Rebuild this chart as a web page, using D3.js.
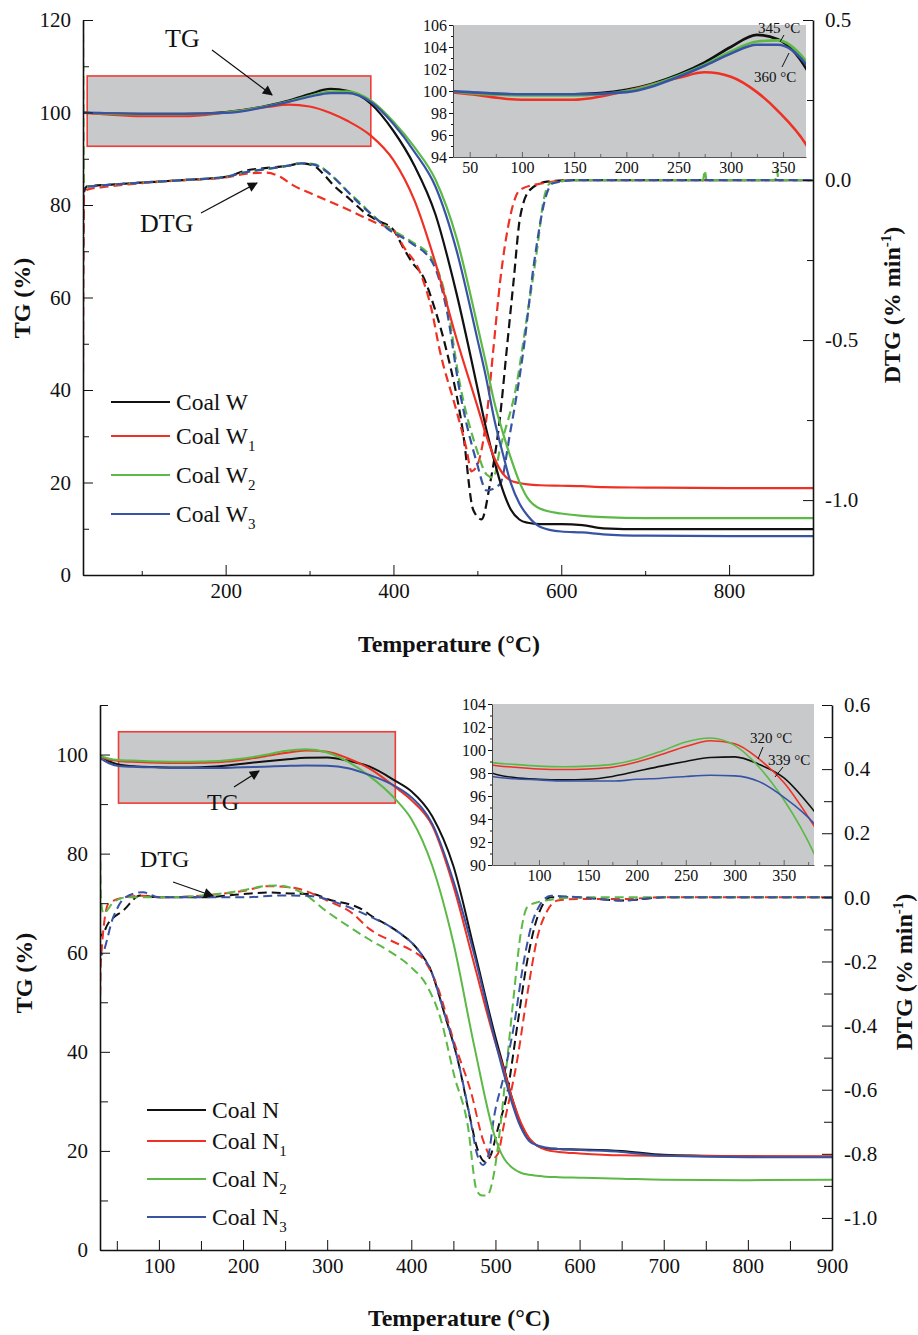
<!DOCTYPE html>
<html>
<head>
<meta charset="utf-8">
<script src="https://cdn.jsdelivr.net/npm/d3@7"></script>
<style>
  body { margin: 0; background: #fff; }
  svg { display: block; }
  text { font-family: "Liberation Serif", "Times New Roman", serif; fill: #111; }
</style>
</head>
<body>
<svg id="fig" width="918" height="1335"></svg>
<script>
// ---------- Coal W series (upper panel) ----------
const seriesW = ["Coal W", "Coal W1", "Coal W2", "Coal W3"];
const tgTempW = [30, 50, 100, 150, 200, 250, 275, 300, 325, 345, 373, 400, 425, 450, 475, 500, 510, 520, 530, 540, 550, 560, 575, 600, 625, 650, 700, 800, 900];
const tgCoalW  = [100.0, 99.8, 99.7, 99.7, 100.1, 101.5, 102.6, 104.0, 105.1, 104.7, 101.9, 96.0, 88.5, 78.0, 61.0, 40.5, 32.0, 24.8, 18.5, 14.1, 12.0, 11.3, 11.0, 11.0, 10.8, 10.1, 9.9, 9.9, 9.9];
const tgCoalW1 = [99.9, 99.7, 99.2, 99.2, 100.0, 101.2, 101.7, 101.3, 99.9, 98.2, 95.0, 89.7, 81.0, 67.5, 51.2, 36.5, 30.5, 25.4, 22.0, 20.4, 19.9, 19.6, 19.4, 19.3, 19.2, 19.0, 18.9, 18.8, 18.8];
const tgCoalW2 = [100.0, 99.8, 99.6, 99.6, 100.0, 101.4, 102.4, 103.6, 104.5, 104.6, 102.6, 98.0, 92.5, 85.5, 73.0, 54.0, 46.0, 37.5, 31.0, 25.2, 20.2, 16.6, 14.3, 13.3, 12.8, 12.5, 12.3, 12.3, 12.3];
const tgCoalW3 = [100.0, 99.9, 99.7, 99.7, 99.9, 101.3, 102.3, 103.4, 104.2, 104.2, 102.3, 97.5, 91.5, 84.0, 70.3, 51.0, 43.0, 33.8, 26.5, 19.8, 15.5, 12.8, 10.4, 9.4, 9.2, 8.8, 8.5, 8.4, 8.4];

const dtgTempW  = [30, 31, 35, 60, 100, 150, 200, 225, 250, 275, 290, 305, 316, 330, 348, 365, 380, 400, 411, 423, 435, 449, 463, 483, 495, 505, 515, 527, 535, 543, 551, 563, 583, 620, 700, 800, 900];
const dtgCoalW  = [-0.30, -0.04, -0.02, -0.015, -0.008, 0.0, 0.01, 0.03, 0.038, 0.045, 0.052, 0.045, 0.02, -0.02, -0.06, -0.10, -0.125, -0.156, -0.208, -0.26, -0.30, -0.40, -0.53, -0.79, -1.03, -1.06, -0.95, -0.74, -0.53, -0.32, -0.115, -0.03, -0.005, 0.0, 0.0, 0.0, 0.0];
const dtgTempW1 = [30, 31, 35, 60, 100, 150, 200, 225, 249, 265, 280, 300, 320, 352, 380, 400, 412, 432, 445, 455, 475, 487, 493, 500, 511, 519, 527, 539, 551, 578, 620, 700, 800, 900];
const dtgCoalW1 = [-0.6, -0.05, -0.03, -0.02, -0.01, 0.0, 0.008, 0.02, 0.023, 0.01, -0.016, -0.04, -0.0625, -0.10, -0.135, -0.156, -0.208, -0.29, -0.40, -0.53, -0.72, -0.84, -0.91, -0.89, -0.74, -0.53, -0.32, -0.115, -0.03, -0.01, 0.0, 0.0, 0.0, 0.0];
const dtgTempW2 = [30, 31, 35, 60, 100, 150, 200, 225, 250, 275, 290, 305, 328, 345, 360, 375, 392, 420, 447, 463, 479, 499, 511, 519, 527, 547, 559, 571, 579, 587, 620, 700, 769, 771, 773, 800, 855, 857, 859, 900];
const dtgCoalW2 = [0.5, -0.01, -0.02, -0.015, -0.008, 0.0, 0.01, 0.025, 0.035, 0.045, 0.052, 0.05, 0.01, -0.035, -0.07, -0.11, -0.146, -0.19, -0.25, -0.375, -0.635, -0.84, -0.92, -0.93, -0.84, -0.635, -0.43, -0.22, -0.0625, -0.01, 0.0, 0.0, 0.0, 0.03, 0.0, 0.0, 0.0, 0.03, 0.0, 0.0];
const dtgTempW3 = [30, 31, 35, 60, 100, 150, 200, 225, 250, 275, 290, 305, 328, 345, 360, 375, 392, 420, 447, 463, 479, 499, 511, 527, 539, 555, 567, 583, 590, 620, 700, 800, 900];
const dtgCoalW3 = [-0.05, -0.02, -0.02, -0.015, -0.008, 0.0, 0.01, 0.025, 0.035, 0.045, 0.052, 0.048, 0.01, -0.035, -0.075, -0.11, -0.15, -0.195, -0.26, -0.40, -0.66, -0.88, -0.97, -0.95, -0.79, -0.53, -0.27, -0.04, -0.01, 0.0, 0.0, 0.0, 0.0];

// ---------- Coal N series (lower panel) ----------
const seriesN = ["Coal N", "Coal N1", "Coal N2", "Coal N3"];
const tgTempN = [30, 40, 52, 75, 100, 125, 150, 175, 200, 225, 250, 275, 300, 325, 350, 381, 400, 425, 450, 475, 500, 510, 520, 530, 540, 550, 560, 575, 600, 650, 700, 800, 900];
const tgCoalN  = [99.8, 98.7, 98.0, 97.6, 97.45, 97.4, 97.45, 97.7, 98.15, 98.6, 99.0, 99.35, 99.4, 98.75, 97.6, 94.7, 92.6, 87.5, 77.5, 60.5, 43.0, 36.8, 30.5, 25.5, 22.5, 21.0, 20.5, 20.4, 20.3, 20.0, 19.2, 18.9, 18.8];
const tgCoalN1 = [99.6, 99.0, 98.7, 98.5, 98.35, 98.3, 98.35, 98.5, 98.95, 99.6, 100.3, 100.8, 100.55, 99.2, 97.2, 93.4, 90.8, 85.6, 73.5, 57.5, 41.8, 36.4, 30.5, 25.8, 22.6, 21.0, 20.2, 19.8, 19.5, 19.1, 19.0, 18.9, 18.9];
const tgCoalN2 = [99.7, 99.2, 98.9, 98.75, 98.6, 98.55, 98.6, 98.75, 99.2, 99.9, 100.7, 101.05, 100.4, 98.5, 95.7, 91.0, 87.0, 77.5, 62.0, 41.0, 22.5, 18.5, 16.6, 15.6, 15.2, 15.0, 14.8, 14.7, 14.6, 14.4, 14.2, 14.1, 14.2];
const tgCoalN3 = [99.3, 98.3, 97.7, 97.5, 97.4, 97.3, 97.3, 97.3, 97.45, 97.55, 97.7, 97.8, 97.75, 97.25, 95.9, 93.6, 91.4, 86.0, 74.5, 59.5, 42.0, 35.5, 29.5, 24.8, 22.0, 21.1, 20.7, 20.4, 20.2, 19.8, 19.0, 18.7, 18.7];

const dtgTempN  = [30, 31, 40, 58, 78, 100, 150, 200, 230, 260, 284, 300, 343, 351, 380, 411, 423, 439, 455, 470, 478, 488, 495, 502, 514, 526, 538, 550, 566, 600, 650, 700, 800, 900];
const dtgCoalN  = [-0.10, -0.12, -0.08, -0.04, 0.006, 0.0, 0.0, 0.01, 0.015, 0.012, 0.01, -0.005, -0.04, -0.055, -0.10, -0.174, -0.226, -0.36, -0.505, -0.69, -0.78, -0.825, -0.80, -0.73, -0.61, -0.40, -0.195, -0.061, 0.0, 0.0, -0.01, 0.0, 0.0, 0.0];
const dtgTempN1 = [30, 31, 40, 60, 80, 100, 150, 200, 230, 260, 300, 330, 351, 380, 400, 415, 431, 451, 471, 486, 497, 503, 510, 526, 538, 550, 562, 574, 600, 650, 700, 800, 900];
const dtgCoalN1 = [-0.35, -0.2, -0.02, 0.0, 0.005, 0.0, 0.005, 0.02, 0.035, 0.03, -0.01, -0.05, -0.10, -0.14, -0.165, -0.195, -0.278, -0.453, -0.608, -0.763, -0.814, -0.80, -0.71, -0.505, -0.30, -0.123, -0.04, -0.01, -0.005, -0.005, 0.0, 0.0, 0.0];
const dtgTempN2 = [30, 31, 34, 46, 62, 100, 150, 200, 225, 240, 270, 300, 325, 351, 375, 399, 419, 435, 451, 467, 478, 484, 490, 498, 506, 514, 522, 530, 538, 550, 600, 900];
const dtgCoalN2 = [0.2, 0.0, -0.05, -0.015, 0.0, 0.0, 0.005, 0.022, 0.035, 0.037, 0.015, -0.045, -0.09, -0.133, -0.17, -0.216, -0.278, -0.38, -0.556, -0.71, -0.917, -0.93, -0.93, -0.865, -0.71, -0.505, -0.30, -0.113, -0.03, -0.015, 0.0, 0.0];
const dtgTempN3 = [30, 31, 46, 60, 81, 100, 150, 200, 244, 280, 320, 351, 380, 411, 423, 439, 455, 470, 478, 485, 492, 498, 510, 522, 534, 546, 566, 600, 650, 700, 800, 900];
const dtgCoalN3 = [-0.16, -0.18, -0.06, 0.0, 0.016, 0.0, 0.0, 0.0, 0.006, 0.004, -0.025, -0.06, -0.10, -0.174, -0.226, -0.36, -0.505, -0.69, -0.80, -0.835, -0.80, -0.69, -0.556, -0.40, -0.195, -0.061, 0.005, 0.0, -0.01, 0.0, 0.0, 0.0];

// Tick values
const tempTicksW = [200, 400, 600, 800];
const tempMinorW = [100, 300, 500, 700, 900];
const tgTicksW = [0, 20, 40, 60, 80, 100, 120];
const dtgTicksW = [0.5, 0.0, -0.5, -1.0];
const tempTicksN = [100, 200, 300, 400, 500, 600, 700, 800, 900];
const tgTicksN = [0, 20, 40, 60, 80, 100];
const dtgTicksN = [0.6, 0.4, 0.2, 0.0, -0.2, -0.4, -0.6, -0.8, -1.0];
const insetTicksYW = [94, 96, 98, 100, 102, 104, 106];
const insetTicksXW = [50, 100, 150, 200, 250, 300, 350];
const insetTicksYN = [90, 92, 94, 96, 98, 100, 102, 104];
const insetTicksXN = [100, 150, 200, 250, 300, 350];

const colors = ["#111111", "#ee3124", "#5cb946", "#3853a4"];
const svg = d3.select("#fig");

// arrow head marker
svg.append("defs").append("marker")
  .attr("id", "arrow").attr("viewBox", "0 0 10 10")
  .attr("refX", 9).attr("refY", 5)
  .attr("markerWidth", 12).attr("markerHeight", 10)
  .attr("markerUnits", "userSpaceOnUse")
  .attr("orient", "auto")
  .append("path").attr("d", "M0,0 L10,5 L0,10 Z").attr("fill", "#111");

function zip(ts, vs) { return ts.map((t, i) => [t, vs[i]]); }

function styleAxis(g, size) {
  g.attr("font-family", null).attr("font-size", null);
  g.selectAll("text").attr("font-size", size).attr("fill", "#111");
  g.selectAll("line").attr("stroke", "#111");
  g.select(".domain").attr("stroke", "#111");
}

let clipId = 0;
function addClip(x0, y0, w, h) {
  const id = "clip" + (clipId++);
  svg.select("defs").append("clipPath").attr("id", id)
    .append("rect").attr("x", x0).attr("y", y0).attr("width", w).attr("height", h);
  return "url(#" + id + ")";
}

function drawPanel(p) {
  const x = d3.scaleLinear().domain([30, 900]).range([p.left, p.right]);
  const yL = d3.scaleLinear().domain(p.tgDomain).range([p.bottom, p.top]);
  const yR = d3.scaleLinear().domain(p.dtgDomain).range([p.bottom, p.top]);
  const g = svg.append("g");

  // zoom frame on the main plot
  g.append("rect")
    .attr("x", x(p.box[0])).attr("y", yL(p.box[3]))
    .attr("width", x(p.box[1]) - x(p.box[0]))
    .attr("height", yL(p.box[2]) - yL(p.box[3]))
    .attr("fill", "#c8c9cb").attr("stroke", "#ee3c36").attr("stroke-width", 1.6);

  const clip = addClip(p.left, p.top, p.right - p.left, p.bottom - p.top);
  const plot = g.append("g").attr("clip-path", clip);
  const lineR = d3.line().x(d => x(d[0])).y(d => yR(d[1])).curve(d3.curveMonotoneX);
  const lineL = d3.line().x(d => x(d[0])).y(d => yL(d[1])).curve(d3.curveMonotoneX);

  p.dtg.forEach((s, i) => {
    plot.append("path").datum(zip(s[0], s[1]))
      .attr("d", lineR).attr("fill", "none")
      .attr("stroke", colors[i]).attr("stroke-width", p.lw)
      .attr("stroke-dasharray", "9,5");
  });
  p.tg.forEach((vals, i) => {
    plot.append("path").datum(zip(p.tgTemp, vals))
      .attr("d", lineL).attr("fill", "none")
      .attr("stroke", colors[i]).attr("stroke-width", p.lw);
  });

  // axes
  const ax = g.append("g").attr("transform", `translate(0,${p.bottom})`)
    .call(d3.axisBottom(x).tickValues(p.xTicks).tickSizeInner(-10).tickSizeOuter(0).tickPadding(8));
  styleAxis(ax, 21);
  ax.select(".domain").attr("stroke-width", 1.6);
  const axm = g.append("g").attr("transform", `translate(0,${p.bottom})`)
    .call(d3.axisBottom(x).tickValues(p.xMinor).tickSizeInner(-p.xMinorLen).tickSizeOuter(0).tickFormat(""));
  styleAxis(axm, 21); axm.select(".domain").remove();

  const al = g.append("g").attr("transform", `translate(${p.left},0)`)
    .call(d3.axisLeft(yL).tickValues(p.tgTicks).tickSizeInner(-10).tickSizeOuter(0).tickPadding(12));
  styleAxis(al, 21);
  al.select(".domain").attr("stroke-width", 1.6);
  const alm = g.append("g").attr("transform", `translate(${p.left},0)`)
    .call(d3.axisLeft(yL).tickValues(p.tgMinor).tickSizeInner(-p.yMinorLen).tickSizeOuter(0).tickFormat(""));
  styleAxis(alm, 21); alm.select(".domain").remove();

  const ar = g.append("g").attr("transform", `translate(${p.right},0)`)
    .call(d3.axisRight(yR).tickValues(p.dtgTicks).tickSizeInner(-10).tickSizeOuter(0).tickPadding(12)
      .tickFormat(d => d.toFixed(1)));
  styleAxis(ar, 21);
  ar.select(".domain").attr("stroke-width", 1.6);
  const arm = g.append("g").attr("transform", `translate(${p.right},0)`)
    .call(d3.axisRight(yR).tickValues(p.dtgMinor).tickSizeInner(-p.yMinorLen).tickSizeOuter(0).tickFormat(""));
  styleAxis(arm, 21); arm.select(".domain").remove();

  // axis titles
  g.append("text").attr("transform", `translate(${p.tgTitle[0]},${p.tgTitle[1]}) rotate(-90)`)
    .attr("text-anchor", "middle").attr("font-size", 24).attr("font-weight", "bold").text("TG (%)");
  const dt = g.append("text").attr("transform", `translate(${p.dtgTitle[0]},${p.dtgTitle[1]}) rotate(-90)`)
    .attr("text-anchor", "middle").attr("font-size", 24).attr("font-weight", "bold");
  dt.append("tspan").text("DTG (% min");
  dt.append("tspan").attr("dy", -9).attr("font-size", 15).text("-1");
  dt.append("tspan").attr("dy", 9).text(")");
  g.append("text").attr("x", p.xTitle[0]).attr("y", p.xTitle[1])
    .attr("text-anchor", "middle").attr("font-size", 24).attr("font-weight", "bold").text("Temperature (°C)");

  // legend
  p.legendY.forEach((ly, i) => {
    g.append("line").attr("x1", p.legendX).attr("x2", p.legendX + 59)
      .attr("y1", ly).attr("y2", ly).attr("stroke", colors[i]).attr("stroke-width", 2);
    const name = p.names[i];
    const t = g.append("text").attr("x", p.legendX + 65).attr("y", ly + 8).attr("font-size", 23.5);
    t.append("tspan").text(name.slice(0, 6));
    if (name.length > 6) t.append("tspan").attr("dy", 7).attr("font-size", 15).text(name.slice(6));
  });

  // TG / DTG callouts
  p.callouts.forEach(c => {
    g.append("text").attr("x", c.tx).attr("y", c.ty).attr("font-size", c.size).text(c.label);
    g.append("line").attr("x1", c.a[0]).attr("y1", c.a[1]).attr("x2", c.a[2]).attr("y2", c.a[3])
      .attr("stroke", "#111").attr("stroke-width", 1.2).attr("marker-end", "url(#arrow)");
  });

  // inset
  const ins = p.inset;
  const ix = d3.scaleLinear().domain(ins.xDomain).range([ins.left, ins.right]);
  const iy = d3.scaleLinear().domain(ins.yDomain).range([ins.bottom, ins.top]);
  const ig = svg.append("g");
  ig.append("rect").attr("x", ins.left).attr("y", ins.top)
    .attr("width", ins.right - ins.left).attr("height", ins.bottom - ins.top).attr("fill", "#c8c9cb");
  const iclip = addClip(ins.left, ins.top, ins.right - ins.left, ins.bottom - ins.top);
  const ip = ig.append("g").attr("clip-path", iclip);
  const iline = d3.line().x(d => ix(d[0])).y(d => iy(d[1])).curve(d3.curveMonotoneX);
  p.tg.forEach((vals, i) => {
    ip.append("path").datum(zip(p.tgTemp, vals)).attr("d", iline).attr("fill", "none")
      .attr("stroke", colors[i]).attr("stroke-width", ins.lw);
  });
  const ixa = ig.append("g").attr("transform", `translate(0,${ins.bottom})`)
    .call(d3.axisBottom(ix).tickValues(ins.xTicks).tickSizeInner(-5).tickSizeOuter(0).tickPadding(5));
  styleAxis(ixa, 16);
  ixa.select(".domain").attr("stroke", "#555");
  ixa.selectAll(".tick line").attr("stroke", "#666");
  const ixm = ig.append("g").attr("transform", `translate(0,${ins.bottom})`)
    .call(d3.axisBottom(ix).tickValues(ins.xMinor).tickSizeInner(-3).tickSizeOuter(0).tickFormat(""));
  styleAxis(ixm, 16); ixm.select(".domain").remove(); ixm.selectAll("line").attr("stroke", "#666");
  const iya = ig.append("g").attr("transform", `translate(${ins.left},0)`)
    .call(d3.axisLeft(iy).tickValues(ins.yTicks).tickSizeInner(4).tickSizeOuter(0).tickPadding(2));
  styleAxis(iya, 16);
  iya.select(".domain").attr("stroke", "#444");
  const iym = ig.append("g").attr("transform", `translate(${ins.left},0)`)
    .call(d3.axisLeft(iy).tickValues(ins.yMinor).tickSizeInner(2).tickSizeOuter(0).tickFormat(""));
  styleAxis(iym, 16); iym.select(".domain").remove();

  ins.notes.forEach(n => {
    ig.append("text").attr("x", n.tx).attr("y", n.ty).attr("font-size", 15).text(n.label);
    ig.append("line").attr("x1", n.l[0]).attr("y1", n.l[1]).attr("x2", n.l[2]).attr("y2", n.l[3])
      .attr("stroke", "#111").attr("stroke-width", 1);
  });
}

// Upper panel: Coal W
drawPanel({
  left: 83, right: 813, top: 20, bottom: 575,
  tgDomain: [0, 120], dtgDomain: [-1.234, 0.5],
  lw: 2.2,
  tgTemp: tgTempW, tg: [tgCoalW, tgCoalW1, tgCoalW2, tgCoalW3],
  dtg: [[dtgTempW, dtgCoalW], [dtgTempW1, dtgCoalW1], [dtgTempW2, dtgCoalW2], [dtgTempW3, dtgCoalW3]],
  xTicks: tempTicksW, xMinor: tempMinorW, xMinorLen: 4,
  tgTicks: tgTicksW, tgMinor: [10, 30, 50, 70, 90, 110],
  dtgTicks: dtgTicksW, dtgMinor: [0.25, -0.25, -0.75],
  yMinorLen: 6,
  box: [35, 373, 92.7, 107.9],
  tgTitle: [30, 298], dtgTitle: [900, 305], xTitle: [449, 652],
  names: seriesW, legendX: 111, legendY: [402, 436, 475, 514],
  callouts: [
    { label: "TG", tx: 165, ty: 47, size: 26, a: [212, 50, 272, 95] },
    { label: "DTG", tx: 140, ty: 232, size: 26, a: [201, 213, 257, 183] }
  ],
  inset: {
    left: 453, right: 806, top: 25, bottom: 157,
    xDomain: [34, 372], yDomain: [94, 106], lw: 2.6,
    xTicks: insetTicksXW, xMinor: [75, 125, 175, 225, 275, 325],
    yTicks: insetTicksYW, yMinor: [95, 97, 99, 101, 103, 105],
    notes: [
      { label: "345 °C", tx: 758, ty: 33, l: [784, 35, 780, 42] },
      { label: "360 °C", tx: 754, ty: 82, l: [782, 67, 789, 53] }
    ]
  }
});

// Lower panel: Coal N
drawPanel({
  left: 100, right: 832, top: 705, bottom: 1250,
  tgDomain: [0, 110], dtgDomain: [-1.1, 0.6],
  lw: 2,
  tgTemp: tgTempN, tg: [tgCoalN, tgCoalN1, tgCoalN2, tgCoalN3],
  dtg: [[dtgTempN, dtgCoalN], [dtgTempN1, dtgCoalN1], [dtgTempN2, dtgCoalN2], [dtgTempN3, dtgCoalN3]],
  xTicks: tempTicksN, xMinor: [50, 150, 250, 350, 450, 550, 650, 750, 850], xMinorLen: 9,
  tgTicks: tgTicksN, tgMinor: [10, 30, 50, 70, 90, 110],
  dtgTicks: dtgTicksN, dtgMinor: [0.5, 0.3, 0.1, -0.1, -0.3, -0.5, -0.7, -0.9],
  yMinorLen: 8,
  box: [52, 381, 90.2, 104.6],
  tgTitle: [32, 973], dtgTitle: [912, 972], xTitle: [459, 1326],
  names: seriesN, legendX: 147, legendY: [1110, 1141, 1179, 1217],
  callouts: [
    { label: "TG", tx: 207, ty: 810, size: 24, a: [234, 787, 259, 771] },
    { label: "DTG", tx: 140, ty: 867, size: 24, a: [173, 882, 213, 896] }
  ],
  inset: {
    left: 492, right: 814, top: 704, bottom: 865,
    xDomain: [52, 381], yDomain: [90, 104], lw: 1.6,
    xTicks: insetTicksXN, xMinor: [75, 125, 175, 225, 275, 325, 375],
    yTicks: insetTicksYN, yMinor: [91, 93, 95, 97, 99, 101, 103],
    notes: [
      { label: "320 °C", tx: 750, ty: 743, l: [763, 747, 758, 759] },
      { label: "339 °C", tx: 768, ty: 765, l: [783, 767, 775, 777] }
    ]
  }
});
</script>
</body>
</html>
